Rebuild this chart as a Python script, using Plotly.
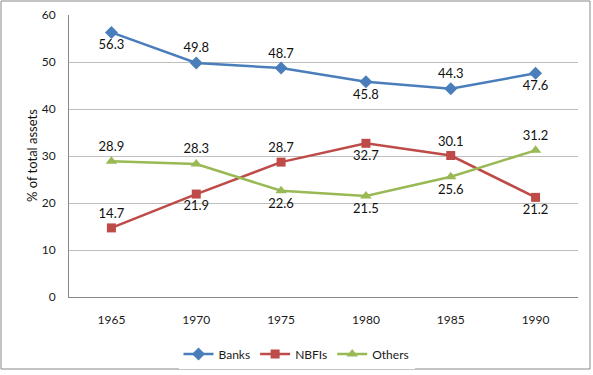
import plotly.graph_objects as go

years = ["1965", "1970", "1975", "1980", "1985", "1990"]
banks = [56.3, 49.8, 48.7, 45.8, 44.3, 47.6]
nbfis = [14.7, 21.9, 28.7, 32.7, 30.1, 21.2]
others = [28.9, 28.3, 22.6, 21.5, 25.6, 31.2]
banks_pos = ["bottom center", "top center", "top center", "bottom center", "top center", "bottom center"]
nbfis_pos = ["top center", "bottom center", "top center", "bottom center", "top center", "bottom center"]
others_pos = ["top center", "top center", "bottom center", "bottom center", "bottom center", "top center"]
y_ticks = [0, 10, 20, 30, 40, 50, 60]

FONT = "Lato, 'Open Sans', sans-serif"

W, H = 593, 375
L, R, T, B = 69, 15, 15, 78
pw, ph = W - L - R, H - T - B

def px_x(p):
    return (p - L) / pw

def px_y(p):
    return (H - B - p) / ph

fig = go.Figure()
series = [
    ("Banks", banks, banks_pos, "#4A7EBB", "diamond", 10),
    ("NBFIs", nbfis, nbfis_pos, "#BE4B48", "square", 9),
    ("Others", others, others_pos, "#98B954", "triangle-up", 10),
]
for name, vals, pos, col, sym, sz in series:
    fig.add_trace(go.Scatter(
        x=years, y=vals, name=name, mode="lines+markers+text",
        line=dict(color=col, width=2.5),
        marker=dict(symbol=sym, size=sz, color=col),
        text=[f"{v:.1f}" for v in vals], textposition=pos,
        textfont=dict(family=FONT, size=13, color="#111111"),
        cliponaxis=False,
    ))

fig.add_shape(type="rect", xref="paper", yref="paper",
              x0=px_x(1), x1=px_x(590), y0=px_y(369), y1=px_y(1),
              line=dict(color="#898989", width=1), fillcolor="rgba(0,0,0,0)", layer="below")

fig.add_annotation(text="% of total assets", xref="paper", yref="paper",
                   x=px_x(32), y=0.5, xanchor="center", yanchor="middle",
                   textangle=-90, showarrow=False,
                   font=dict(family=FONT, size=13, color="#111111"))

fig.update_layout(
    width=W, height=H,
    margin=dict(l=L, r=R, t=T, b=B, autoexpand=False),
    paper_bgcolor="white", plot_bgcolor="white",
    font=dict(family=FONT, size=12, color="#1a1a1a"),
    showlegend=True,
    legend=dict(orientation="h", xref="container", yref="container",
                x=0.5, xanchor="center", y=1 - 354 / H, yanchor="middle",
                font=dict(size=12), itemwidth=30, tracegroupgap=0),
    xaxis=dict(type="category", range=[-0.5, 5.5], showgrid=False, automargin=False,
               showline=True, linecolor="#868686", linewidth=1,
               ticks="", tickfont=dict(size=12), ticklabelstandoff=12),
    yaxis=dict(range=[0, 60], tickvals=y_ticks, showgrid=True, gridcolor="#BEBEBE",
               gridwidth=1, showline=True, linecolor="#868686", linewidth=1, automargin=False,
               ticks="", zeroline=False, tickfont=dict(size=12), ticklabelstandoff=10),
)

fig.write_html("out.html", config={"displayModeBar": False},
               post_script="document.body.style.margin='0';document.body.style.overflow='hidden';")
